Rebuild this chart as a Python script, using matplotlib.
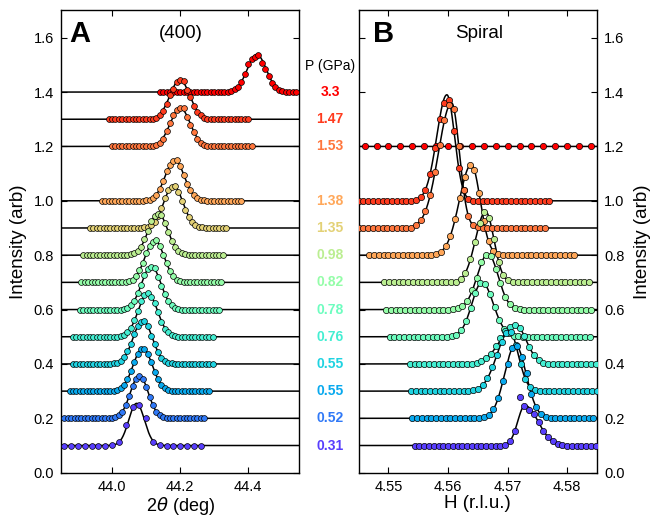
import numpy as np
import matplotlib
matplotlib.use('Agg')
import matplotlib.pyplot as plt
from matplotlib.transforms import blended_transform_factory

plt.rcParams['font.family'] = ['Liberation Sans', 'DejaVu Sans']
plt.rcParams['mathtext.fontset'] = 'dejavusans'

# ---------------- data ----------------
pressures = ['3.3', '1.47', '1.53', '1.38', '1.35', '0.98', '0.82', '0.78',
             '0.76', '0.55', '0.55', '0.52', '0.31']

# Panel A : (400) Bragg peak
A_offset = [1.4, 1.3, 1.2, 1.0, 0.9, 0.8, 0.7, 0.6, 0.5, 0.4, 0.3, 0.2, 0.1]
A_start = [44.14, 43.99, 44.00, 43.97, 43.935, 43.915, 43.91, 43.905, 43.885,
           43.885, 43.875, 43.86, 43.86]
A_step = [0.01] * 12 + [0.02]
A_npts = [41, 42, 42, 42, 41, 42, 42, 42, 42, 42, 42, 42, 21]
A_peak_from = [44.34, 44.12, 44.12, 44.10, 44.095, 44.055, 44.04, 44.035, 44.025,
               44.005, 44.005, 44.00, 44.00]
A_peak = [
    [0.002, 0.005, 0.01, 0.02, 0.036, 0.066, 0.104, 0.12, 0.13, 0.136, 0.108, 0.083, 0.06, 0.035, 0.02, 0.009, 0.004, 0.002],
    [0.002, 0.006, 0.015, 0.032, 0.055, 0.088, 0.112, 0.136, 0.146, 0.14, 0.108, 0.08, 0.05, 0.028, 0.015, 0.006, 0.002],
    [0.002, 0.006, 0.014, 0.028, 0.055, 0.085, 0.114, 0.133, 0.143, 0.14, 0.11, 0.08, 0.052, 0.028, 0.014, 0.006, 0.002],
    [0.002, 0.004, 0.01, 0.022, 0.045, 0.072, 0.108, 0.13, 0.146, 0.15, 0.128, 0.095, 0.062, 0.038, 0.02, 0.01, 0.004, 0.002],
    [0.002, 0.004, 0.01, 0.023, 0.043, 0.075, 0.11, 0.138, 0.152, 0.155, 0.133, 0.1, 0.068, 0.04, 0.022, 0.01, 0.004, 0.002],
    [0.003, 0.007, 0.016, 0.031, 0.058, 0.09, 0.125, 0.145, 0.152, 0.148, 0.118, 0.085, 0.054, 0.03, 0.016, 0.007, 0.003],
    [0.002, 0.004, 0.01, 0.022, 0.045, 0.07, 0.108, 0.135, 0.15, 0.155, 0.132, 0.1, 0.07, 0.043, 0.022, 0.01, 0.004, 0.002],
    [0.003, 0.007, 0.016, 0.033, 0.06, 0.092, 0.128, 0.148, 0.158, 0.152, 0.12, 0.088, 0.056, 0.032, 0.016, 0.007, 0.003],
    [0.003, 0.007, 0.017, 0.034, 0.06, 0.095, 0.13, 0.152, 0.16, 0.148, 0.125, 0.09, 0.056, 0.03, 0.016, 0.007, 0.003],
    [0.002, 0.004, 0.011, 0.024, 0.046, 0.075, 0.11, 0.14, 0.155, 0.158, 0.138, 0.104, 0.072, 0.043, 0.023, 0.011, 0.004, 0.002],
    [0.002, 0.004, 0.011, 0.023, 0.043, 0.073, 0.108, 0.138, 0.155, 0.156, 0.136, 0.107, 0.07, 0.044, 0.022, 0.011, 0.004, 0.002],
    [0.001, 0.004, 0.011, 0.025, 0.05, 0.083, 0.12, 0.146, 0.156, 0.146, 0.116, 0.08, 0.048, 0.025, 0.011, 0.004, 0.001],
    [0.002, 0.012, 0.075, 0.14, 0.148, 0.1, 0.012, 0.002],
]
# Gaussian fit parameters (centre, amplitude, width)
A_center = [44.425, 44.199, 44.20, 44.184, 44.18, 44.135, 44.125, 44.115, 44.105,
            44.09, 44.09, 44.08, 44.072]
A_amp = [0.138, 0.145, 0.142, 0.15, 0.156, 0.155, 0.155, 0.16, 0.16, 0.16, 0.158, 0.158, 0.155]
A_sigma = [0.028, 0.029, 0.029, 0.028, 0.028, 0.028, 0.028, 0.028, 0.028, 0.028,
           0.028, 0.026, 0.023]

# Panel B : spiral peak
B_idx = [0, 1, 2, 3, 5, 6, 7, 8, 9, 10, 12]
B_offset = [1.2, 1.0, 0.9, 0.8, 0.7, 0.6, 0.5, 0.4, 0.3, 0.2, 0.1]
B_start = [4.546, 4.545, 4.545, 4.5468, 4.5493, 4.5496, 4.5502, 4.5536, 4.5538, 4.554, 4.5544]
B_step = [0.002] + [0.0008] * 10
B_npts = [20, 41, 40, 44, 44, 44, 43, 40, 40, 39, 39]
B_peak_from = [4.546, 4.5546, 4.5546, 4.558, 4.5613, 4.5608, 4.5598, 4.5648, 4.5642, 4.5652, 4.5696]
B_peak = [
    [],
    [0.004, 0.014, 0.041, 0.10, 0.195, 0.30, 0.36, 0.372, 0.255, 0.12, 0.038, 0.008, 0.001],
    [0.011, 0.028, 0.062, 0.12, 0.205, 0.305, 0.397, 0.452, 0.439, 0.30, 0.141, 0.045, 0.01, 0.002],
    [0.004, 0.013, 0.033, 0.072, 0.134, 0.212, 0.286, 0.33, 0.315, 0.229, 0.125, 0.051, 0.016, 0.004],
    [0.003, 0.012, 0.035, 0.085, 0.148, 0.219, 0.258, 0.237, 0.158, 0.076, 0.026, 0.007, 0.001],
    [0.001, 0.004, 0.012, 0.031, 0.072, 0.117, 0.175, 0.202, 0.196, 0.15, 0.096, 0.048, 0.019, 0.006, 0.002],
    [0.0005, 0.002, 0.008, 0.024, 0.057, 0.107, 0.162, 0.197, 0.193, 0.158, 0.109, 0.062, 0.03, 0.012, 0.004, 0.001],
    [0.005, 0.011, 0.021, 0.038, 0.065, 0.095, 0.12, 0.136, 0.145, 0.134, 0.102, 0.064, 0.033, 0.014, 0.005, 0.001],
    [0.003, 0.009, 0.022, 0.047, 0.09, 0.133, 0.182, 0.214, 0.217, 0.168, 0.099, 0.044, 0.015, 0.004, 0.001],
    [0.001, 0.004, 0.012, 0.033, 0.074, 0.137, 0.2, 0.26, 0.266, 0.224, 0.165, 0.088, 0.041, 0.016, 0.005, 0.001],
    [0.003, 0.017, 0.054, 0.18, 0.147, 0.13, 0.117, 0.085, 0.054, 0.031, 0.015, 0.006, 0.002],
]
B_center = [4.565, 4.5598, 4.5606, 4.5639, 4.5663, 4.5667, 4.5657, 4.5713, 4.5703, 4.5713, 4.5729]
B_amp = [0.0, 0.39, 0.46, 0.333, 0.26, 0.205, 0.2, 0.145, 0.22, 0.27, 0.147]
B_sigL = [0.001, 0.0017, 0.0022, 0.002, 0.0017, 0.0018, 0.0017, 0.0025, 0.0021, 0.0018, 0.0012]
B_sigR = [0.001, 0.0013, 0.0013, 0.0015, 0.0014, 0.0017, 0.0019, 0.0018, 0.0015, 0.0018, 0.0022]

A_xlim = (43.85, 44.55)
B_xlim = (4.545, 4.585)
A_xticks = [44.0, 44.2, 44.4]
B_xticks = [4.55, 4.56, 4.57, 4.58]
yticks = [0.0, 0.2, 0.4, 0.6, 0.8, 1.0, 1.2, 1.4, 1.6]

# ---------------- style ----------------
cmap = plt.get_cmap('rainbow')
colors = [cmap(t) for t in np.linspace(1.0, 0.08, len(pressures))]


def model(x, c, a, sl, sr, base):
    s = np.where(x < c, sl, sr)
    return base + a * np.exp(-0.5 * ((x - c) / s) ** 2)


def scan(start, step, n, base, pfrom, peak):
    x = start + step * np.arange(n)
    y = np.full(n, float(base))
    i0 = int(round((pfrom - start) / step))
    for j, v in enumerate(peak):
        if 0 <= i0 + j < n:
            y[i0 + j] += v
    return x, y


fig = plt.figure(figsize=(6.59, 5.17), dpi=100)
axA = fig.add_axes([0.0926, 0.0857, 0.3616, 0.894])
axB = fig.add_axes([0.5443, 0.0857, 0.3616, 0.894])

# Panel A
xsA = np.linspace(A_xlim[0], A_xlim[1], 1200)
for i in range(len(pressures)):
    axA.plot(xsA, model(xsA, A_center[i], A_amp[i], A_sigma[i], A_sigma[i], A_offset[i]),
             color='black', lw=1.1, zorder=2)
for i in range(len(pressures)):
    x, y = scan(A_start[i], A_step[i], A_npts[i], A_offset[i], A_peak_from[i], A_peak[i])
    axA.plot(x, y, 'o', ms=4.2, mfc=colors[i], mec='black', mew=0.5, zorder=3)

# Panel B
xsB = np.linspace(B_xlim[0], B_xlim[1], 1200)
for i in range(len(B_idx)):
    axB.plot(xsB, model(xsB, B_center[i], B_amp[i], B_sigL[i], B_sigR[i], B_offset[i]),
             color='black', lw=1.1, zorder=2)
for i in range(len(B_idx)):
    x, y = scan(B_start[i], B_step[i], B_npts[i], B_offset[i], B_peak_from[i], B_peak[i])
    axB.plot(x, y, 'o', ms=4.5, mfc=colors[B_idx[i]], mec='black', mew=0.5, zorder=3)

for ax, xl, xt in ((axA, A_xlim, A_xticks), (axB, B_xlim, B_xticks)):
    ax.set_xlim(*xl)
    ax.set_ylim(0, 1.7)
    ax.set_xticks(xt)
    ax.set_yticks(yticks)
    ax.tick_params(direction='in', length=4, width=0.8, top=True, right=True,
                   left=True, bottom=True, labelsize=10.5, pad=5)
    for sp in ax.spines.values():
        sp.set_linewidth(1.0)

axA.set_xticklabels(['%.1f' % v for v in A_xticks])
axA.set_yticklabels(['%.1f' % v for v in yticks])
axB.set_xticklabels(['%.2f' % v for v in B_xticks])
axB.set_yticklabels(['%.1f' % v for v in yticks])
axB.tick_params(labelleft=False, labelright=True)

axA.set_xlabel(r'2$\theta$ (deg)', fontsize=13, labelpad=1)
axA.set_ylabel('Intensity (arb)', fontsize=13.5, labelpad=5)
axB.set_xlabel('H (r.l.u.)', fontsize=13.5, labelpad=1)
axB.yaxis.set_label_position('right')
axB.set_ylabel('Intensity (arb)', fontsize=13.5, labelpad=7)

axA.text(0.034, 0.932, 'A', transform=axA.transAxes, fontsize=21, fontweight='bold',
         ha='left', va='baseline')
axB.text(0.059, 0.932, 'B', transform=axB.transAxes, fontsize=21, fontweight='bold',
         ha='left', va='baseline')
axA.text(0.504, 0.95, '(400)', transform=axA.transAxes, fontsize=13.5, ha='center', va='center')
axB.text(0.505, 0.95, 'Spiral', transform=axB.transAxes, fontsize=13.5, ha='center', va='center')

# pressure labels between panels
tr = blended_transform_factory(fig.transFigure, axA.transData)
fig.text(0.501, 1.497, 'P (GPa)', transform=tr, fontsize=10, ha='center', va='center')
for i, p in enumerate(pressures):
    fig.text(0.501, A_offset[i], p, transform=tr, fontsize=10, fontweight='bold',
             color=colors[i], ha='center', va='center')

fig.savefig('out.png', dpi=100)
